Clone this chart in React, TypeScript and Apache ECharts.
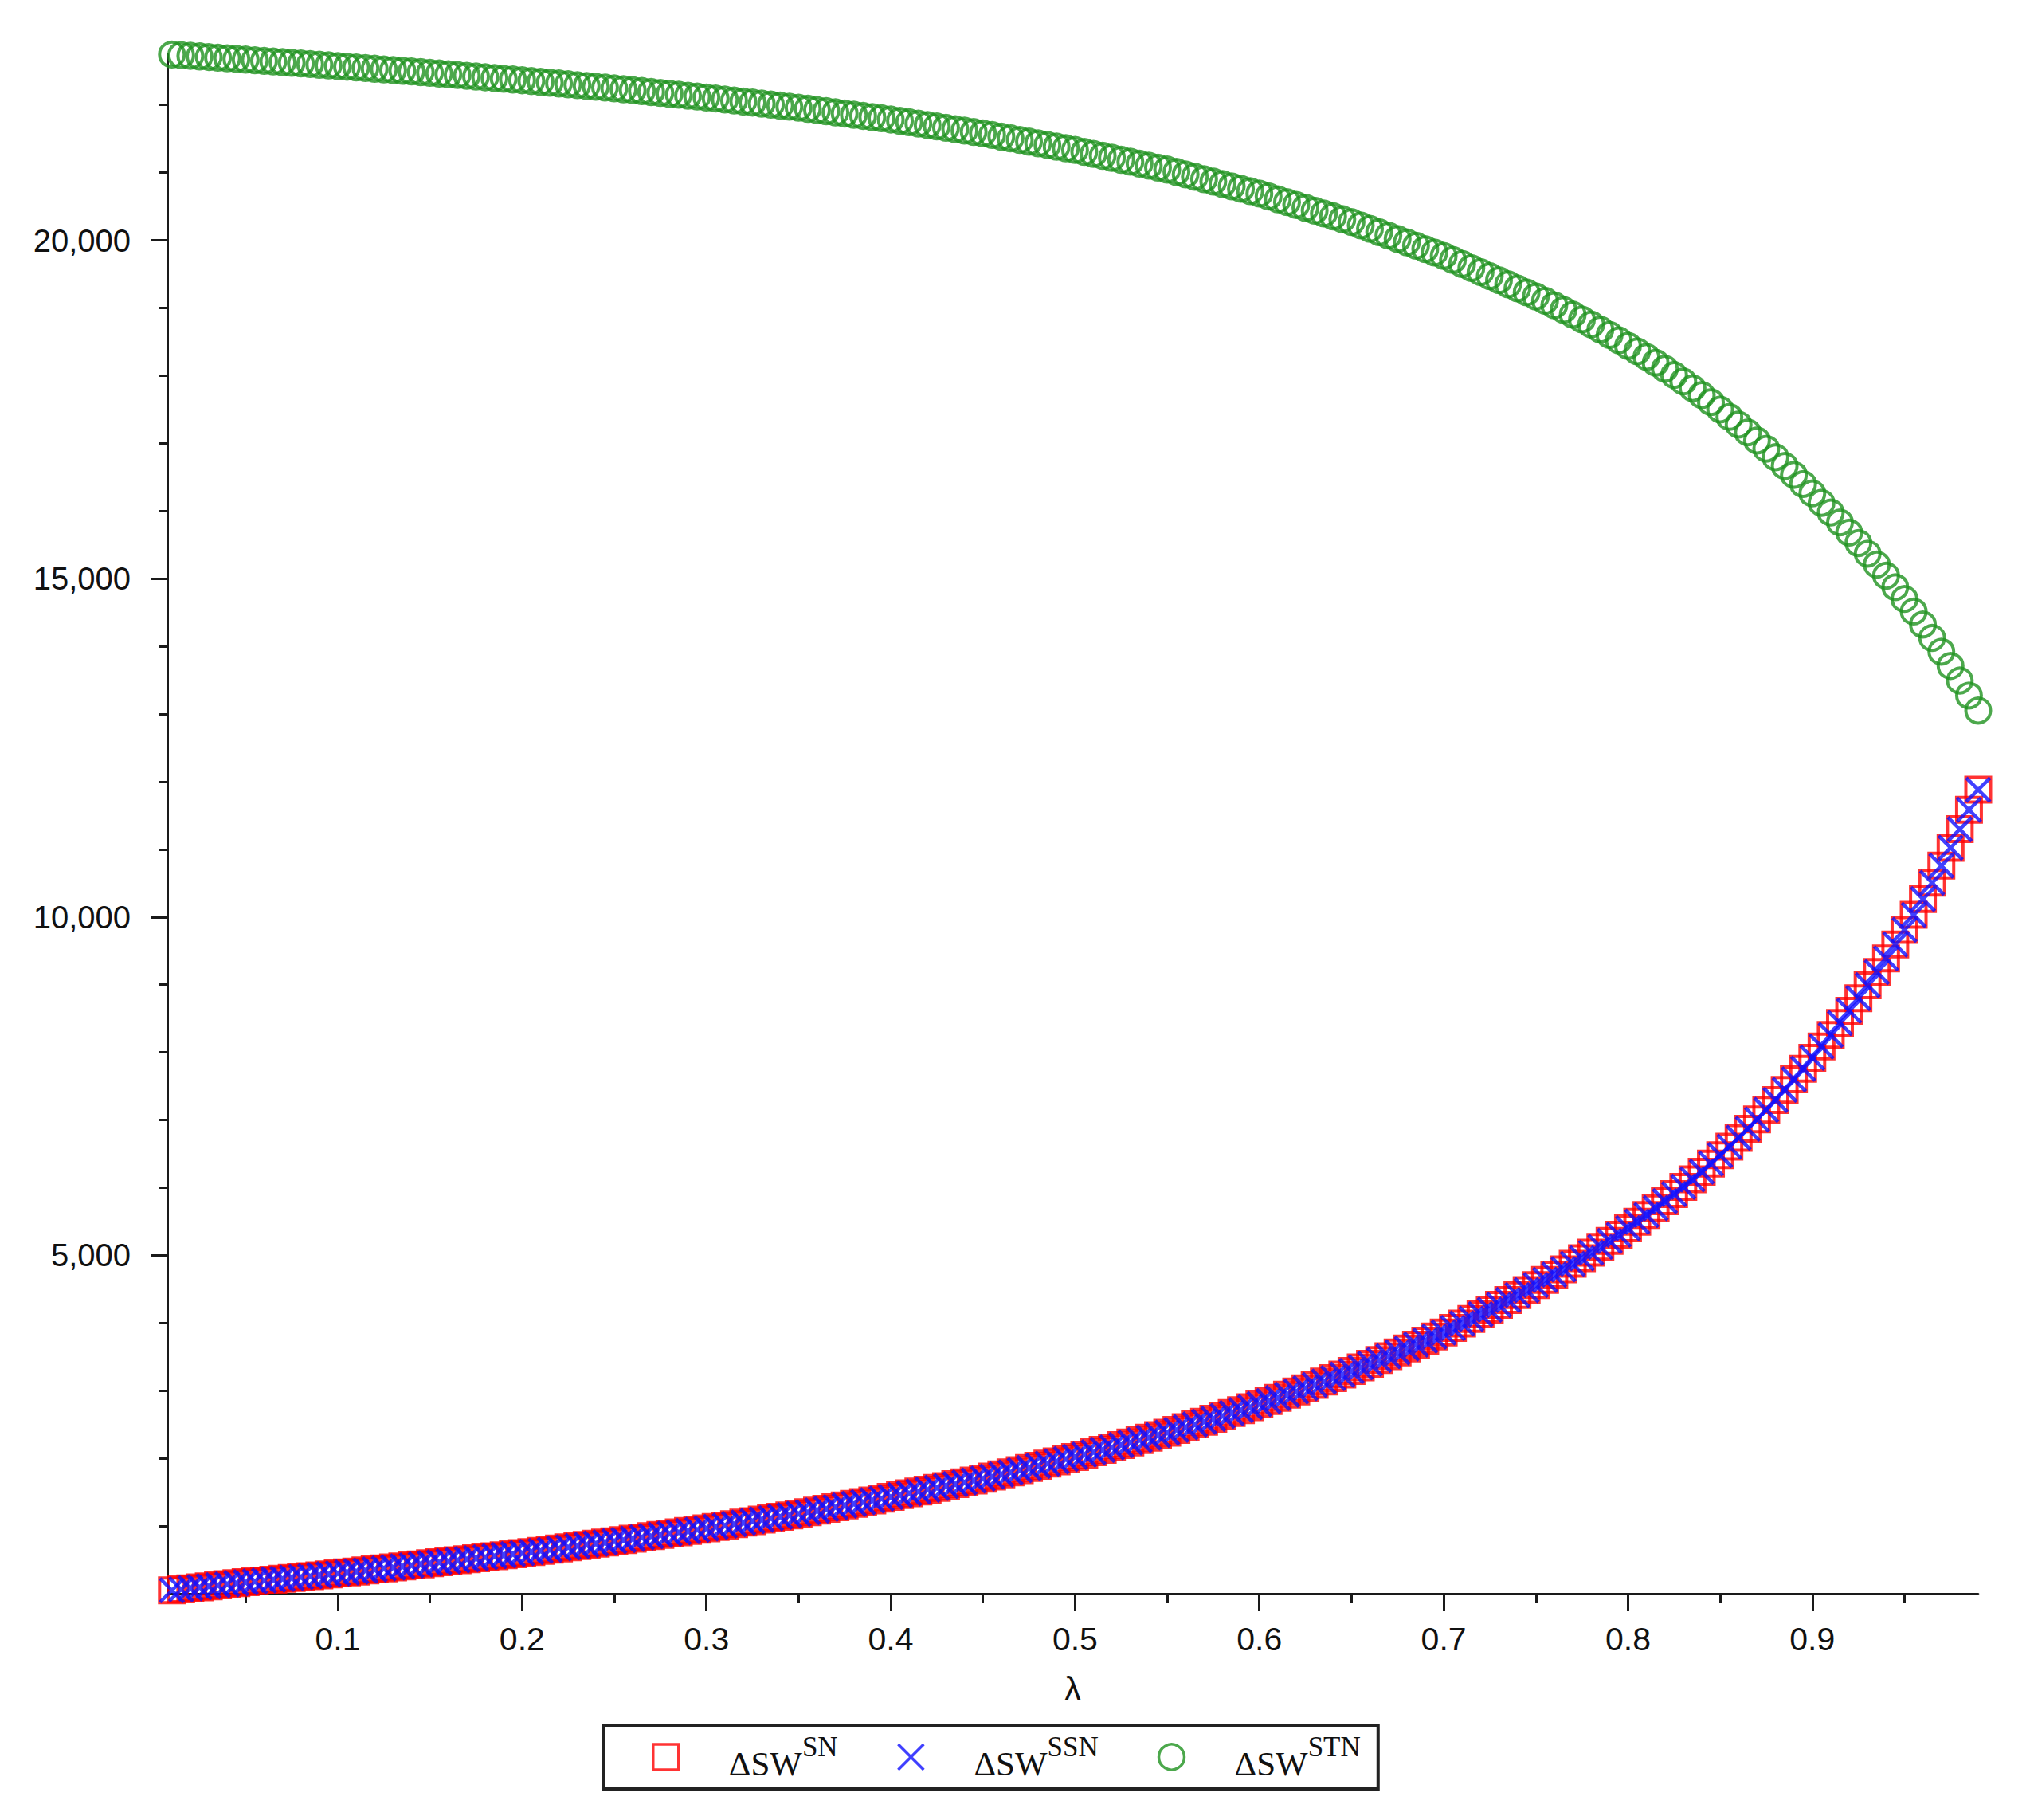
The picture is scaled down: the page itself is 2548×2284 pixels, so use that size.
import React, { useEffect, useRef } from "react";
import * as echarts from "echarts";

// λ sampling grid (0.01 … 0.99, every 0.005)
const lambdaGrid: number[] = Array.from({ length: 197 }, (_, i) => Math.round((0.01 + i * 0.005) * 1000) / 1000);

// ΔSW^SN (red squares)
const snValues: number[] = [
  50, 65, 80, 95, 110, 125, 140, 155, 170,
  182, 194, 207, 220, 233, 246, 259, 272, 286, 300,
  314, 328, 343, 358, 373, 388, 403, 418, 434, 450,
  464, 479, 494, 509, 524, 539, 554, 569, 584, 600,
  616, 633, 650, 668, 686, 704, 722, 740, 757, 775,
  793, 812, 831, 850, 869, 888, 907, 926, 945, 965,
  986, 1007, 1028, 1050, 1072, 1094, 1115, 1137, 1158, 1180,
  1204, 1228, 1253, 1278, 1303, 1328, 1353, 1379, 1404, 1430,
  1456, 1483, 1510, 1537, 1564, 1591, 1618, 1645, 1672, 1700,
  1731, 1762, 1793, 1825, 1857, 1889, 1922, 1955, 1988, 2020,
  2055, 2090, 2125, 2161, 2197, 2233, 2270, 2306, 2343, 2380,
  2420, 2460, 2501, 2542, 2584, 2626, 2669, 2712, 2756, 2800,
  2846, 2893, 2940, 2988, 3036, 3085, 3135, 3185, 3237, 3290,
  3344, 3398, 3453, 3509, 3566, 3623, 3681, 3740, 3800, 3860,
  3926, 3993, 4060, 4128, 4197, 4268, 4340, 4413, 4486, 4560,
  4637, 4715, 4794, 4875, 4957, 5040, 5125, 5213, 5305, 5400,
  5497, 5596, 5697, 5800, 5905, 6012, 6122, 6236, 6356, 6480,
  6606, 6736, 6870, 7008, 7150, 7296, 7446, 7600, 7758, 7920,
  8086, 8257, 8433, 8614, 8800, 8991, 9187, 9388, 9594, 9810,
  10032, 10264, 10506, 10759, 11023, 11298, 11584, 11880,
];

// ΔSW^SSN (blue crosses) — drawn exactly on top of ΔSW^SN in the picture
const ssnValues: number[] = [...snValues];

// ΔSW^STN (green circles)
const stnValues: number[] = [
  22745, 22736, 22727, 22717, 22708, 22698, 22689, 22680, 22670,
  22661, 22651, 22642, 22632, 22623, 22613, 22604, 22594, 22585, 22575,
  22565, 22555, 22545, 22535, 22525, 22515, 22505, 22495, 22485, 22475,
  22464, 22453, 22442, 22431, 22420, 22409, 22398, 22387, 22376, 22365,
  22353, 22341, 22329, 22317, 22305, 22293, 22281, 22269, 22257, 22245,
  22232, 22218, 22205, 22191, 22178, 22164, 22151, 22137, 22124, 22110,
  22095, 22080, 22065, 22050, 22035, 22020, 22005, 21990, 21975, 21960,
  21943, 21925, 21908, 21890, 21873, 21855, 21838, 21820, 21803, 21785,
  21765, 21744, 21724, 21703, 21683, 21662, 21642, 21621, 21601, 21580,
  21556, 21531, 21507, 21482, 21458, 21433, 21409, 21384, 21360, 21335,
  21306, 21277, 21248, 21219, 21190, 21161, 21132, 21103, 21074, 21045,
  21010, 20974, 20939, 20903, 20868, 20832, 20797, 20761, 20726, 20690,
  20648, 20606, 20564, 20522, 20480, 20438, 20396, 20354, 20312, 20270,
  20220, 20170, 20120, 20070, 20020, 19970, 19920, 19870, 19820, 19770,
  19710, 19650, 19590, 19530, 19470, 19410, 19350, 19290, 19230, 19170,
  19106, 19040, 18972, 18902, 18830, 18756, 18680, 18602, 18522, 18440,
  18360, 18277, 18191, 18102, 18010, 17914, 17815, 17713, 17608, 17500,
  17390, 17277, 17161, 17042, 16920, 16794, 16665, 16533, 16398, 16260,
  16120, 15977, 15830, 15680, 15526, 15369, 15208, 15043, 14874, 14700,
  14514, 14322, 14124, 13920, 13710, 13494, 13273, 13050,
];

const xMajorTicks = [0.1, 0.2, 0.3, 0.4, 0.5, 0.6, 0.7, 0.8, 0.9];
const xMinorTicks = [0.05, 0.15, 0.25, 0.35, 0.45, 0.55, 0.65, 0.75, 0.85, 0.95];
const yMajorTicks = [5000, 10000, 15000, 20000];
const yMinorTicks = [1000, 2000, 3000, 4000, 6000, 7000, 8000, 9000, 11000, 12000, 13000, 14000, 16000, 17000, 18000, 19000, 21000, 22000];

const seriesNames = ["SN", "SSN", "STN"];
const seriesColors = ["#ff0000", "#1010ff", "#1f921f"];

const X_MIN = 0.0075;
const X_MAX = 0.99;
const Y_MIN = 0;
const Y_MAX = 22750;

const crossPath = "path://M0,0L10,10M10,0L0,10";

export default function App() {
  const ref = useRef<HTMLDivElement>(null);

  useEffect(() => {
    if (!ref.current) return;
    const chart = echarts.init(ref.current, undefined, { renderer: "svg" });

    const axisColor = "#1a1a1a";
    const labelFont = "Liberation Sans";

    const mk = (vals: number[]) => lambdaGrid.map((x, i) => [x, vals[i]]);

    chart.setOption({
      animation: false,
      backgroundColor: "#ffffff",
      grid: { left: 210, right: 65, top: 68, bottom: 284, containLabel: false },
      xAxis: [
        {
          type: "value",
          min: X_MIN,
          max: X_MAX,
          position: "bottom",
          name: "λ",
          nameLocation: "middle",
          nameGap: 98,
          nameTextStyle: { fontFamily: labelFont, fontSize: 42, color: "#111" },
          axisLine: { show: true, onZero: false, lineStyle: { color: axisColor, width: 3 } },
          axisTick: { show: true, customValues: xMajorTicks, length: 22, lineStyle: { color: axisColor, width: 3 } },
          axisLabel: {
            show: true,
            customValues: xMajorTicks,
            margin: 36,
            fontFamily: labelFont,
            fontSize: 41,
            color: "#111",
            formatter: (v: number) => String(v),
          },
          splitLine: { show: false },
        },
        {
          type: "value",
          min: X_MIN,
          max: X_MAX,
          position: "bottom",
          axisLine: { show: false, onZero: false },
          axisTick: { show: true, customValues: xMinorTicks, length: 12, lineStyle: { color: axisColor, width: 3 } },
          axisLabel: { show: false },
          splitLine: { show: false },
        },
      ],
      yAxis: [
        {
          type: "value",
          min: Y_MIN,
          max: Y_MAX,
          position: "left",
          axisLine: { show: true, onZero: false, lineStyle: { color: axisColor, width: 3 } },
          axisTick: { show: true, customValues: yMajorTicks, length: 20, lineStyle: { color: axisColor, width: 3 } },
          axisLabel: {
            show: true,
            customValues: yMajorTicks,
            margin: 46,
            fontFamily: labelFont,
            fontSize: 40,
            color: "#111",
            formatter: (v: number) => v.toLocaleString("en-US"),
          },
          splitLine: { show: false },
        },
        {
          type: "value",
          min: Y_MIN,
          max: Y_MAX,
          position: "left",
          axisLine: { show: false, onZero: false },
          axisTick: { show: true, customValues: yMinorTicks, length: 11, lineStyle: { color: axisColor, width: 3 } },
          axisLabel: { show: false },
          splitLine: { show: false },
        },
      ],
      legend: {
        show: true,
        left: 757,
        top: 2165,
        orient: "horizontal",
        selectedMode: false,
        borderColor: "#222",
        borderWidth: 4,
        borderRadius: 0,
        padding: [10, 22, 10, 61],
        itemWidth: 32,
        itemHeight: 32,
        itemGap: 74,
        itemStyle: { borderWidth: 3.5 },
        data: seriesNames,
        formatter: (name: string) => `{a|ΔSW}{s|${name}}`,
        textStyle: {
          color: "#111",
          fontFamily: "Liberation Serif",
          rich: {
            a: { fontFamily: "Liberation Serif", fontSize: 43, color: "#111", lineHeight: 60, verticalAlign: "bottom", padding: [0, 0, 0, 58] },
            s: { fontFamily: "Liberation Serif", fontSize: 35, color: "#111", lineHeight: 60, verticalAlign: "top" },
          },
        },
      },
      series: [
        {
          name: seriesNames[0],
          type: "scatter",
          xAxisIndex: 0,
          yAxisIndex: 0,
          symbol: "rect",
          symbolSize: 31,
          itemStyle: { color: "transparent", borderColor: seriesColors[0], borderWidth: 4 },
          emphasis: { disabled: true },
          data: mk(snValues),
          z: 2,
        },
        {
          name: seriesNames[1],
          type: "scatter",
          xAxisIndex: 0,
          yAxisIndex: 0,
          symbol: crossPath,
          symbolSize: 30,
          itemStyle: { color: "transparent", borderColor: seriesColors[1], borderWidth: 4.5 },
          emphasis: { disabled: true },
          data: mk(ssnValues),
          z: 3,
        },
        {
          name: seriesNames[2],
          type: "scatter",
          xAxisIndex: 0,
          yAxisIndex: 0,
          symbol: "circle",
          symbolSize: 31,
          itemStyle: { color: "transparent", borderColor: seriesColors[2], borderWidth: 4 },
          emphasis: { disabled: true },
          data: mk(stnValues),
          z: 4,
        },
      ],
    });

    return () => {
      chart.dispose();
    };
  }, []);

  return (
    <div
      ref={ref}
      style={{ position: "absolute", left: 0, top: 0, width: 2548, height: 2284, background: "#fff" }}
    />
  );
}
